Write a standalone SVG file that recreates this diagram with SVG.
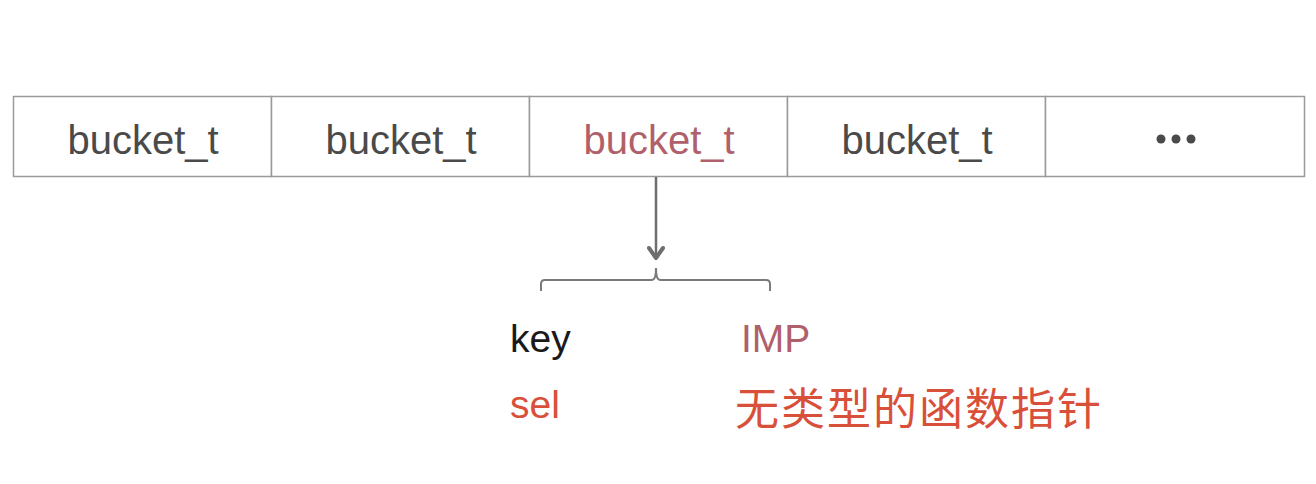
<svg xmlns="http://www.w3.org/2000/svg" width="1316" height="484" viewBox="0 0 1316 484">
<style>
.cell{fill:#fff;stroke:#9a9a9a;stroke-width:1.5}
.lbl{font-family:"Liberation Sans",Arial,sans-serif;font-size:40px;fill:#4a4a4a;text-anchor:middle}
.hl{fill:#b0606a}
.con{fill:none;stroke:#6e6e6e;stroke-width:2.5}
.t{font-family:"Liberation Sans","Noto Sans CJK SC",sans-serif;font-size:39px}
.cn{font-family:"Noto Sans CJK SC",sans-serif;font-size:44px;letter-spacing:2px}
</style>
<rect x="0" y="0" width="1316" height="484" fill="#fff"/>
<g id="bucket1"><rect class="cell" x="13.5" y="96.5" width="258" height="80"/><text class="lbl" x="143" y="154">bucket_t</text></g>
<g id="bucket2"><rect class="cell" x="271.5" y="96.5" width="258" height="80"/><text class="lbl" x="401" y="154">bucket_t</text></g>
<g id="bucket3"><rect class="cell" x="529.5" y="96.5" width="258" height="80"/><text class="lbl hl" x="659" y="154">bucket_t</text></g>
<g id="bucket4"><rect class="cell" x="787.5" y="96.5" width="258" height="80"/><text class="lbl" x="917" y="154">bucket_t</text></g>
<g id="more"><rect class="cell" x="1045.5" y="96.5" width="259" height="80"/>
<circle cx="1161" cy="139" r="4.5" fill="#4a4a4a"/><circle cx="1176" cy="139" r="4.5" fill="#4a4a4a"/><circle cx="1191" cy="139" r="4.5" fill="#4a4a4a"/></g>
<g id="connectors">
<path class="con" d="M656 177 V258"/>
<path d="M649 248 L656 258 L663 248" fill="none" stroke="#6e6e6e" stroke-width="4" stroke-linecap="round" stroke-linejoin="round"/>
<path d="M541 291 V284 Q541 280 545 280 H652 Q656 280 656 268 Q656 280 660 280 H766 Q770 280 770 284 V291" fill="none" stroke="#7a7a7a" stroke-width="2"/>
</g>
<g id="key"><text class="t" x="510" y="352" fill="#1a1a1a">key</text></g>
<g id="sel"><text class="t" x="510" y="418" fill="#d9503a">sel</text></g>
<g id="imp"><text class="t" x="741" y="352" fill="#b0606a">IMP</text></g>
<g id="desc"><text class="cn" x="735" y="425" fill="#d9503a">无类型的函数指针</text></g>
</svg>
